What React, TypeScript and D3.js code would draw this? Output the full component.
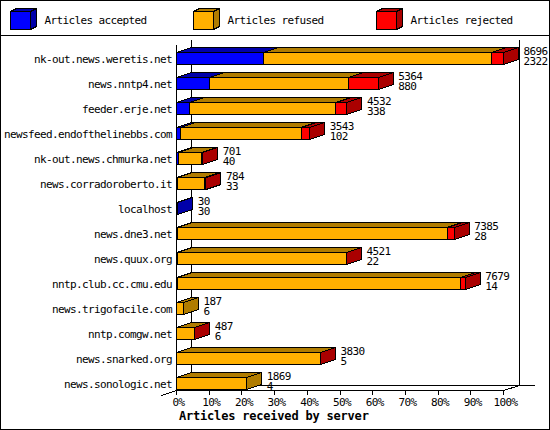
import * as d3 from 'd3';

const servers = [
  'nk-out.news.weretis.net',
  'news.nntp4.net',
  'feeder.erje.net',
  'newsfeed.endofthelinebbs.com',
  'nk-out.news.chmurka.net',
  'news.corradoroberto.it',
  'localhost',
  'news.dne3.net',
  'news.quux.org',
  'nntp.club.cc.cmu.edu',
  'news.trigofacile.com',
  'nntp.comgw.net',
  'news.snarked.org',
  'news.sonologic.net',
];
const totals = [8696, 5364, 4532, 3543, 701, 784, 30, 7385, 4521, 7679, 187, 487, 3830, 1869];
const accepted = [2322, 880, 338, 102, 40, 33, 30, 28, 22, 14, 6, 6, 5, 4];
const refused = [6066, 3686, 3902, 3210, 636, 721, 0, 7167, 4489, 7535, 181, 466, 3815, 1865];
const rejected = [308, 798, 292, 231, 25, 30, 0, 190, 10, 130, 0, 15, 10, 0];

const seriesNames = ['Articles accepted', 'Articles refused', 'Articles rejected'];
const pctTicks = [0, 10, 20, 30, 40, 50, 60, 70, 80, 90, 100];

const FRONT = ['#0000ff', '#ffb000', '#ff0000'];
const SIDE = ['#0000aa', '#b07c00', '#aa0000'];
const FONT = '"DejaVu Sans Mono", "Liberation Mono", monospace';

const W = 550;
const H = 430;
const DX = 15; // depth of the 3d offset
const DY = 5;
const BAR_H = 12;
// small text: 11px glyphs squeezed to the 6px cell of the original bitmap font
const small = { fontSize: 11, letterSpacing: -0.62 };

export default function App() {
  const x = d3.scaleLinear().domain([0, d3.max(totals)!]).range([176.5, 503.5]);
  const xPct = d3.scaleLinear().domain([0, 100]).range([176.5, 503.5]);
  const y = d3.scaleBand<string>().domain(servers).range([40, 390]);

  const series = [accepted, refused, rejected];
  const pts = (p: number[][]) => p.map((d) => d.join(',')).join(' ');

  const bars = servers.map((s, i) => {
    const bottom = y(s)! + y.bandwidth() - 0.5;
    const top = bottom - BAR_H;
    let acc = 0;
    const segs: JSX.Element[] = [];
    series.forEach((vals, k) => {
      const v = vals[i];
      if (v <= 0) return;
      const x0 = x(acc);
      const x1 = x(acc + v);
      acc += v;
      segs.push(
        <g key={k}>
          <rect x={x0} y={top} width={x1 - x0} height={BAR_H} fill={FRONT[k]} stroke="#000" />
          <polygon
            points={pts([[x0, top], [x0 + DX, top - DY], [x1 + DX, top - DY], [x1, top]])}
            fill={SIDE[k]}
            stroke="#000"
          />
          <polygon
            points={pts([[x1, top], [x1 + DX, top - DY], [x1 + DX, bottom - DY], [x1, bottom]])}
            fill={SIDE[k]}
            stroke="#000"
          />
        </g>
      );
    });
    const lx = x(totals[i]) + DX + 5;
    return (
      <g key={s}>
        {segs}
        <text x={lx} y={bottom - 10} {...small}>{totals[i]}</text>
        <text x={lx} y={bottom} {...small}>{accepted[i]}</text>
      </g>
    );
  });

  return (
    <svg
      width={W}
      height={H}
      style={{ position: 'absolute', left: 0, top: 0, background: '#fff' }}
      fontFamily={FONT}
      shapeRendering="crispEdges"
    >
      <rect x={0.5} y={0.5} width={W - 1} height={H - 1} fill="#fff" stroke="#000" />
      <line x1={0} x2={W} y1={35.5} y2={35.5} stroke="#000" />

      {/* legend */}
      {seriesNames.map((name, k) => {
        const bx = 10.5 + k * 183;
        const by = 11.5;
        const bw = 20;
        const bh = 18;
        return (
          <g key={name}>
            <rect x={bx} y={by} width={bw} height={bh} fill={FRONT[k]} stroke="#000" />
            <polygon
              points={pts([[bx, by], [bx + 6, by - 3], [bx + bw + 6, by - 3], [bx + bw, by]])}
              fill={SIDE[k]}
              stroke="#000"
            />
            <polygon
              points={pts([[bx + bw, by], [bx + bw + 6, by - 3], [bx + bw + 6, by + bh - 3], [bx + bw, by + bh]])}
              fill={SIDE[k]}
              stroke="#000"
            />
            <text x={bx + 34} y={24} {...small}>{name}</text>
          </g>
        );
      })}

      {/* back walls */}
      <line x1={xPct(0) + DX} x2={xPct(0) + DX} y1={39.5} y2={385.5} stroke="#000" />
      <line x1={xPct(100) + DX + 1} x2={xPct(100) + DX + 1} y1={39.5} y2={385.5} stroke="#000" />
      <line x1={xPct(0) + DX} x2={535} y1={385.5} y2={385.5} stroke="#000" />
      {/* front axes */}
      <line x1={xPct(0)} x2={xPct(0)} y1={44.5} y2={390.5} stroke="#000" />
      <line x1={xPct(0)} x2={xPct(100)} y1={390.5} y2={390.5} stroke="#000" />
      <line x1={xPct(0) - DX} y1={395.5} x2={xPct(0) + DX} y2={385.5} stroke="#000" />
      <line x1={xPct(100)} y1={390.5} x2={xPct(100) + DX + 1} y2={385.5} stroke="#000" />

      {pctTicks.map((p) => (
        <g key={p}>
          <line x1={xPct(p)} x2={xPct(p)} y1={390.5} y2={395} stroke="#000" />
          <text x={xPct(p) + 2} y={406} {...small} textAnchor="middle">{p}%</text>
        </g>
      ))}

      {servers.map((s) => (
        <text key={s} x={172} y={y(s)! + y.bandwidth() - 2.5} {...small} textAnchor="end">
          {s}
        </text>
      ))}

      {bars}

      <text x={179} y={420} fontSize={12} letterSpacing={-0.2} fontWeight="bold">
        Articles received by server
      </text>
    </svg>
  );
}
